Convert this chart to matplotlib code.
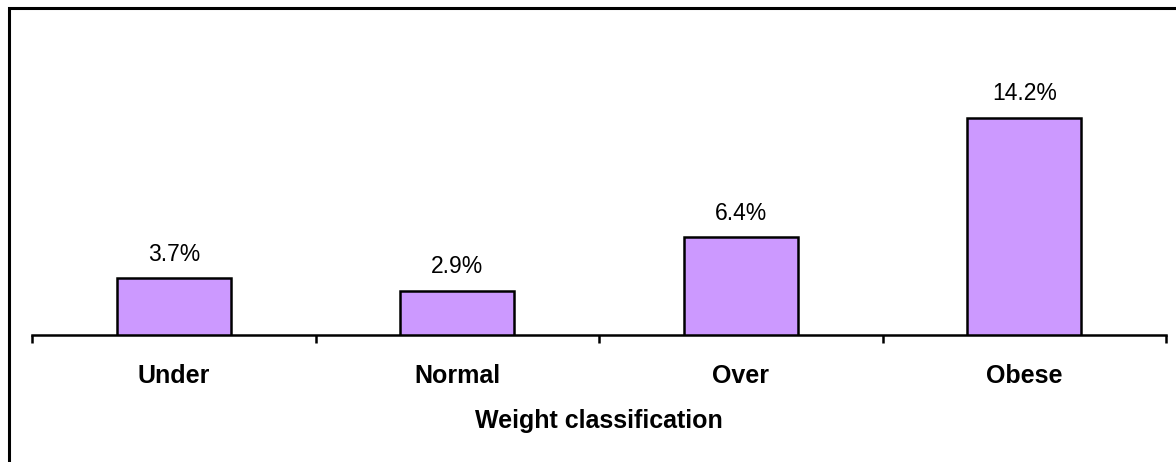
import matplotlib
matplotlib.use('Agg')
import matplotlib.pyplot as plt
from matplotlib.patches import Rectangle
import numpy as np

plt.rcParams['font.family'] = ['Liberation Sans', 'DejaVu Sans']

# share of group by weight class (%)
categories = ['Under', 'Normal', 'Over', 'Obese']
values = [3.7, 2.9, 6.4, 14.2]
value_labels = ['3.7%', '2.9%', '6.4%', '14.2%']

fig = plt.figure(figsize=(11.76, 4.62), dpi=100)
ax = fig.add_axes([32 / 1176, 127 / 462, 1134 / 1176, 0.53])

x = np.arange(len(categories)) + 0.5
bars = ax.bar(x, values, width=0.403, color='#CC99FF', edgecolor='black', linewidth=1.8, zorder=3)

for rect, lab in zip(bars, value_labels):
    ax.annotate(lab, (rect.get_x() + rect.get_width() / 2, rect.get_height()),
                xytext=(0, 9), textcoords='offset points', ha='center', va='bottom',
                fontsize=16.5)

ax.set_xlim(0, len(categories))
ax.set_ylim(0, 16)

# category labels in the middle, tick marks on the boundaries
ax.set_xticks(x)
ax.set_xticklabels(categories, fontsize=18, fontweight='bold')
ax.tick_params(axis='x', which='major', length=0, pad=21)
ax.set_xticks(np.arange(len(categories) + 1), minor=True)
ax.tick_params(axis='x', which='minor', length=6, width=1.8, direction='out')
ax.set_xlabel('Weight classification', fontsize=18, fontweight='bold', labelpad=15)

ax.set_yticks([])
for side in ['top', 'right', 'left']:
    ax.spines[side].set_visible(False)
ax.spines['bottom'].set_linewidth(1.8)

# frame around the chart area
fig.patches.append(Rectangle((9 / 1176, -0.1), 1.2, (462 - 8) / 462 + 0.1,
                             transform=fig.transFigure, fill=False,
                             edgecolor='black', linewidth=2.2))

fig.savefig('out.png', dpi=100)
